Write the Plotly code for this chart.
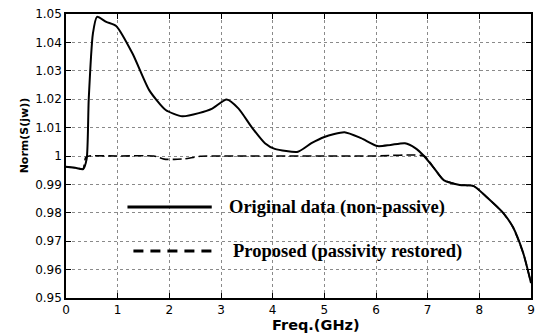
import plotly.graph_objects as go

# Original data (non-passive)
freq_orig = [0.0, 0.2, 0.33, 0.40, 0.44, 0.52, 0.60, 0.78, 0.97, 1.29, 1.61, 1.93, 2.25, 2.57,
             2.83, 3.11, 3.34, 3.60, 3.85, 4.04, 4.49, 4.75, 5.0, 5.39, 5.71, 6.03, 6.28,
             6.56, 6.76, 6.93, 7.12, 7.31, 7.62, 7.89, 8.14, 8.46, 8.65, 8.85, 9.0]
norm_orig = [0.9962, 0.9958, 0.9954, 0.9990, 1.020, 1.043, 1.049, 1.0472, 1.0458, 1.036, 1.0232,
             1.0162, 1.0140, 1.0151, 1.0167, 1.0199, 1.0167, 1.0100, 1.0045, 1.0025, 1.0015,
             1.0045, 1.0067, 1.0084, 1.0063, 1.0035, 1.0039, 1.0045, 1.0028, 1.0000, 0.9958,
             0.9915, 0.9898, 0.9894, 0.9856, 0.9800, 0.9750, 0.9658, 0.9553]

# Proposed (passivity restored)
freq_prop = [0.0, 0.2, 0.33, 0.38, 0.45, 1.0, 1.7, 1.9, 2.1, 2.3, 2.6, 3.0, 4.0, 5.0, 6.0,
             6.93, 7.12, 7.31, 7.62, 7.89, 8.14, 8.46, 8.65, 8.85, 9.0]
norm_prop = [0.9962, 0.9958, 0.9954, 0.9995, 1.0000, 1.0000, 1.0000, 0.9989, 0.9988, 0.9990,
             0.9999, 1.0000, 1.0000, 1.0000, 1.0000, 1.0000, 0.9958, 0.9915, 0.9898, 0.9894,
             0.9856, 0.9800, 0.9750, 0.9658, 0.9553]

x_ticks = [0, 1, 2, 3, 4, 5, 6, 7, 8, 9]
y_ticks = [0.95, 0.96, 0.97, 0.98, 0.99, 1.0, 1.01, 1.02, 1.03, 1.04, 1.05]
y_tick_labels = ["0.95", "0.96", "0.97", "0.98", "0.99", "1", "1.01", "1.02", "1.03", "1.04", "1.05"]

legend_labels = ["Original data (non-passive)", "Proposed (passivity restored)"]

fig = go.Figure()
fig.add_trace(go.Scatter(x=freq_prop, y=norm_prop, mode="lines",
                         line=dict(color="black", width=1.6, dash="9px,4px", shape="spline", smoothing=0.5),
                         showlegend=False))
fig.add_trace(go.Scatter(x=freq_orig, y=norm_orig, mode="lines",
                         line=dict(color="black", width=2, shape="spline", smoothing=0.6),
                         showlegend=False))

axis_common = dict(showline=True, linecolor="black", linewidth=1.5, mirror="ticks",
                   ticks="inside", ticklen=5, tickcolor="black",
                   showgrid=True, gridcolor="#8a8a8a", griddash="dot", gridwidth=1,
                   zeroline=False, tickfont=dict(family="DejaVu Sans", size=12, color="black"))

fig.update_xaxes(range=[0, 9], tickvals=x_ticks, **axis_common)
fig.update_yaxes(range=[0.95, 1.05], tickvals=y_ticks, ticktext=y_tick_labels, **axis_common)

# axis titles
fig.add_annotation(xref="paper", yref="paper", x=(318-66)/469, y=-(325-298)/284, xanchor="center", yanchor="middle",
                   text="<b>Freq.(GHz)</b>", showarrow=False,
                   font=dict(family="DejaVu Sans", size=14.5, color="black"))
fig.add_annotation(xref="paper", yref="paper", x=-(66-24)/469, y=(298-135)/284, xanchor="center", yanchor="middle",
                   text="<b>Norm(S(jw))</b>", showarrow=False, textangle=-90,
                   font=dict(family="DejaVu Sans", size=11, color="black"))

# Legend drawn inside the plot
fig.add_shape(type="line", xref="paper", yref="paper", x0=(128-66)/469, x1=(213-66)/469,
              y0=(298-207)/284, y1=(298-207)/284, line=dict(color="black", width=3))
fig.add_shape(type="line", xref="paper", yref="paper", x0=(134-66)/469, x1=(213-66)/469,
              y0=(298-251)/284, y1=(298-251)/284, line=dict(color="black", width=3, dash="10px,7px"))
fig.add_annotation(xref="paper", yref="paper", x=(228-66)/469, y=(298-207)/284, xanchor="left", yanchor="middle",
                   text="<b>" + legend_labels[0] + "</b>", showarrow=False,
                   font=dict(family="Liberation Serif, Times New Roman", size=18.5, color="black"))
fig.add_annotation(xref="paper", yref="paper", x=(232-66)/469, y=(298-251)/284, xanchor="left", yanchor="middle",
                   text="<b>" + legend_labels[1] + "</b>", showarrow=False,
                   font=dict(family="Liberation Serif, Times New Roman", size=18.5, color="black"))

fig.update_layout(width=542, height=333, margin=dict(l=66, r=7, t=14, b=35),
                  plot_bgcolor="white", paper_bgcolor="white")

fig.write_html("out.html")
